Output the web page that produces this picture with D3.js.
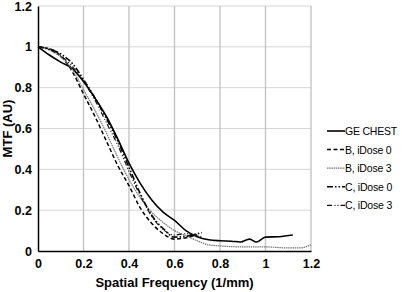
<!DOCTYPE html>
<html>
<head>
<meta charset="utf-8">
<script src="https://cdn.jsdelivr.net/npm/d3@7"></script>
<style>
  body { margin: 0; background: #fff; }
  text { font-family: "Liberation Sans", Arial, sans-serif; }
</style>
</head>
<body>
<div id="chart"></div>
<script>
// Size of the page
var width = 402;
var height = 292;

// Tick values
var xTicks = [0, 0.2, 0.4, 0.6, 0.8, 1, 1.2];
var yTicks = [0, 0.2, 0.4, 0.6, 0.8, 1, 1.2];

// Series names (legend order)
var seriesNames = ["GE CHEST", "B, iDose 0", "B, iDose 3", "C, iDose 0", "C, iDose 3"];

// Data: [spatial frequency, MTF]
var geChest = [[0,1],[0.05,0.96],[0.1,0.925],[0.15,0.895],[0.2,0.83],[0.25,0.75],[0.3,0.66],[0.35,0.55],
  [0.4,0.43],[0.45,0.33],[0.5,0.25],[0.55,0.19],[0.6,0.15],[0.65,0.1],[0.7,0.07],[0.75,0.055],
  [0.8,0.05],[0.85,0.048],[0.89,0.044],[0.93,0.058],[0.96,0.044],[1.0,0.068],[1.06,0.07],[1.12,0.078]];
var bIdose0 = [[0,1],[0.05,0.99],[0.08,0.975],[0.1,0.955],[0.13,0.915],[0.15,0.88],[0.2,0.77],[0.25,0.66],
  [0.3,0.54],[0.35,0.42],[0.4,0.32],[0.45,0.21],[0.5,0.135],[0.55,0.085],[0.6,0.058],[0.65,0.065],[0.7,0.08]];
var bIdose3 = [[0,1],[0.05,0.985],[0.1,0.95],[0.15,0.89],[0.2,0.79],[0.25,0.69],[0.3,0.58],[0.35,0.46],
  [0.4,0.35],[0.45,0.26],[0.5,0.19],[0.55,0.14],[0.6,0.1],[0.65,0.075],[0.7,0.05],[0.75,0.03],
  [0.8,0.025],[0.9,0.02],[1.0,0.02],[1.1,0.015],[1.15,0.015],[1.2,0.03]];
var cIdose0 = [[0,1],[0.05,0.99],[0.1,0.965],[0.15,0.92],[0.2,0.84],[0.25,0.75],[0.3,0.65],[0.35,0.54],
  [0.4,0.41],[0.45,0.28],[0.5,0.175],[0.55,0.11],[0.6,0.068],[0.65,0.072],[0.7,0.085],[0.72,0.09]];
var cIdose3 = [[0,1],[0.05,0.985],[0.1,0.955],[0.15,0.905],[0.2,0.83],[0.25,0.74],[0.3,0.63],[0.35,0.52],
  [0.4,0.39],[0.45,0.27],[0.5,0.17],[0.55,0.105],[0.6,0.078],[0.65,0.085],[0.7,0.075],[0.72,0.07]];

// Line styles per series
var styles = [
  { stroke: "#000", width: 1.6, dash: null },
  { stroke: "#000", width: 1.5, dash: "4,2.5" },
  { stroke: "#777", width: 1.2, dash: "1.5,0.7" },
  { stroke: "#000", width: 1.6, dash: "6,2,1.5,2,1.5,2" },
  { stroke: "#111", width: 1.2, dash: "5,2.5,1,2,1,2" }
];

var margin = { top: 6, right: 91, bottom: 41, left: 38 };

function main() {
  var svg = d3.select("#chart").append("svg")
      .attr("width", width)
      .attr("height", height);

  var x = d3.scaleLinear().domain([0, 1.2]).range([margin.left, width - margin.right]);
  var y = d3.scaleLinear().domain([0, 1.2]).range([height - margin.bottom, margin.top]);

  // horizontal grid
  svg.append("g").selectAll("line")
      .data(yTicks.slice(1))
      .enter().append("line")
      .attr("x1", x(0)).attr("x2", x(1.2))
      .attr("y1", function(d) { return y(d); })
      .attr("y2", function(d) { return y(d); })
      .attr("stroke", "#d6d6d6").attr("stroke-width", 1);

  // vertical grid
  svg.append("g").selectAll("line")
      .data(xTicks.slice(1))
      .enter().append("line")
      .attr("x1", function(d) { return x(d); })
      .attr("x2", function(d) { return x(d); })
      .attr("y1", y(0)).attr("y2", y(1.2))
      .attr("stroke", "#c4c4c4").attr("stroke-width", 1.4);

  // axes
  var xAxis = svg.append("g")
      .attr("transform", "translate(0," + y(0) + ")")
      .call(d3.axisBottom(x).tickValues(xTicks).tickSize(0).tickPadding(8).tickFormat(d3.format("~g")));
  var yAxis = svg.append("g")
      .attr("transform", "translate(" + x(0) + ",0)")
      .call(d3.axisLeft(y).tickValues(yTicks).tickSize(0).tickPadding(6).tickFormat(d3.format("~g")));

  [xAxis, yAxis].forEach(function(a) {
    a.select(".domain").attr("stroke", "#000").attr("stroke-width", 1.5);
    a.selectAll("text")
        .style("font-size", "12.5px")
        .style("font-weight", "bold")
        .attr("fill", "#000");
  });

  // lines
  var line = d3.line()
      .x(function(d) { return x(d[0]); })
      .y(function(d) { return y(d[1]); })
      .curve(d3.curveMonotoneX);

  var allSeries = [geChest, bIdose0, bIdose3, cIdose0, cIdose3];
  allSeries.forEach(function(s, i) {
    svg.append("path")
        .datum(s)
        .attr("d", line)
        .attr("fill", "none")
        .attr("stroke", styles[i].stroke)
        .attr("stroke-width", styles[i].width)
        .attr("stroke-dasharray", styles[i].dash);
  });

  // axis titles
  svg.append("text")
      .attr("x", (x(0) + x(1.2)) / 2)
      .attr("y", 287)
      .attr("text-anchor", "middle")
      .style("font-size", "13px")
      .style("font-weight", "bold")
      .text("Spatial Frequency (1/mm)");

  svg.append("text")
      .attr("transform", "translate(12," + y(0.6) + ") rotate(-90)")
      .attr("text-anchor", "middle")
      .style("font-size", "13px")
      .style("font-weight", "bold")
      .text("MTF (AU)");

  // legend
  var legend = svg.append("g").attr("transform", "translate(327,131)");
  seriesNames.forEach(function(name, i) {
    var g = legend.append("g").attr("transform", "translate(0," + (i * 18.6) + ")");
    g.append("line")
        .attr("x1", 0).attr("x2", 18)
        .attr("stroke", styles[i].stroke)
        .attr("stroke-width", styles[i].width)
        .attr("stroke-dasharray", styles[i].dash);
    g.append("text")
        .attr("x", 18)
        .attr("y", 4)
        .style("font-size", "10.5px")
        .style("letter-spacing", "-0.2px")
        .attr("fill", "#000")
        .text(name);
  });
}

window.onload = function() {
  main();
};
</script>
</body>
</html>
